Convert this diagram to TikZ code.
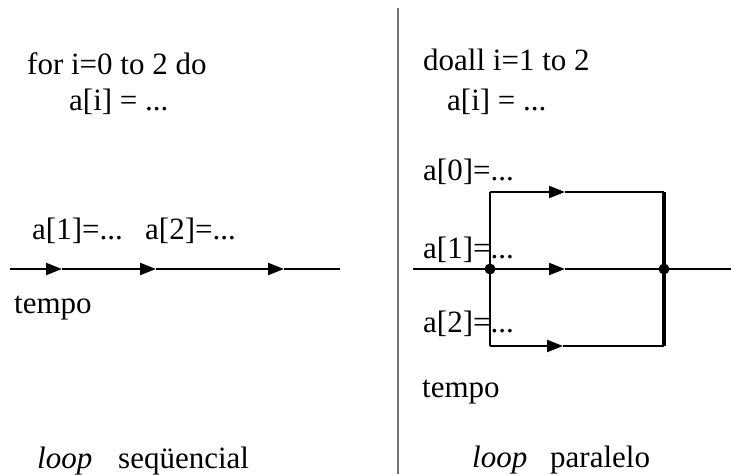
\documentclass[tikz,border=0pt]{standalone}
\usepackage{fontspec}
\setmainfont{Liberation Serif}
\usetikzlibrary{arrows.meta}
\begin{document}
\begin{tikzpicture}[x=1pt,y=-1pt,
  txt/.style={anchor=base west,inner sep=0pt,font=\fontsize{31}{36}\selectfont},
  ln/.style={line width=2.2pt},
  arr/.style={ln,-{Triangle[length=16pt,width=12pt]}},
  dot/.style={circle,fill,inner sep=0pt,minimum size=11pt}]
\useasboundingbox (0,0) rectangle (731,474);

% ---------- left: sequential ----------
\node[txt] (for) at (27,74) {for i=0 to 2 do};
\node[txt] (ai1) at (69,110) {a[i] = ...};
\node[txt] (s1) at (32,239) {a[1]=...};
\node[txt] (s2) at (145,239) {a[2]=...};
\node[txt] (tl) at (14,313) {tempo};
\node[txt] (lpl) at (37,468) {\itshape loop};
\node[txt] (seq) at (118,468) {seqüencial};

\coordinate (L0) at (10,269);
\coordinate (L1) at (62,269);
\coordinate (L2) at (156,269);
\coordinate (L3) at (284,269);
\coordinate (L4) at (340,269);
\draw[arr] (L0) -- (L1);
\draw[arr] (L1) -- (L2);
\draw[arr] (L2) -- (L3);
\draw[ln] (L3) -- (L4);

% ---------- divider ----------
\coordinate (D0) at (398,8);
\coordinate (D1) at (398,474);
\draw[line width=2.4pt,black!55] (D0) -- (D1);

% ---------- right: parallel ----------
\node[txt] (doall) at (423,70) {doall i=1 to 2};
\node[txt] (ai2) at (447,110) {a[i] = ...};
\node[txt] (p0) at (423,180) {a[0]=...};
\node[txt] (p1) at (423,258) {a[1]=...};
\node[txt] (p2) at (423,332) {a[2]=...};
\node[txt] (tr) at (422,397) {tempo};
\node[txt] (lpr) at (472,467) {\itshape loop};
\node[txt] (par) at (550,467) {paralelo};

\coordinate (M0) at (413,269);
\node[dot] (J1) at (490,269) {};
\node[dot] (J2) at (664,269) {};
\coordinate (M3) at (731,269);
\coordinate (TL) at (490,192);
\coordinate (TR) at (664,192);
\coordinate (BL) at (490,346);
\coordinate (BR) at (664,346);
\coordinate (Ta) at (565,192);
\coordinate (Ma) at (565,269);
\coordinate (Ba) at (563,346);

\draw[ln] (M0) -- (J1.center);
\draw[arr] (J1.center) -- (Ma);
\draw[ln] (Ma) -- (J2.center) -- (M3);
\draw[ln] (BL) -- (TL);
\draw[arr] (TL) -- (Ta);
\draw[ln] (Ta) -- (TR);
\draw[arr] (BL) -- (Ba);
\draw[ln] (Ba) -- (BR);
\draw[line width=3.5pt] (TR) -- (BR);
\end{tikzpicture}
\end{document}
